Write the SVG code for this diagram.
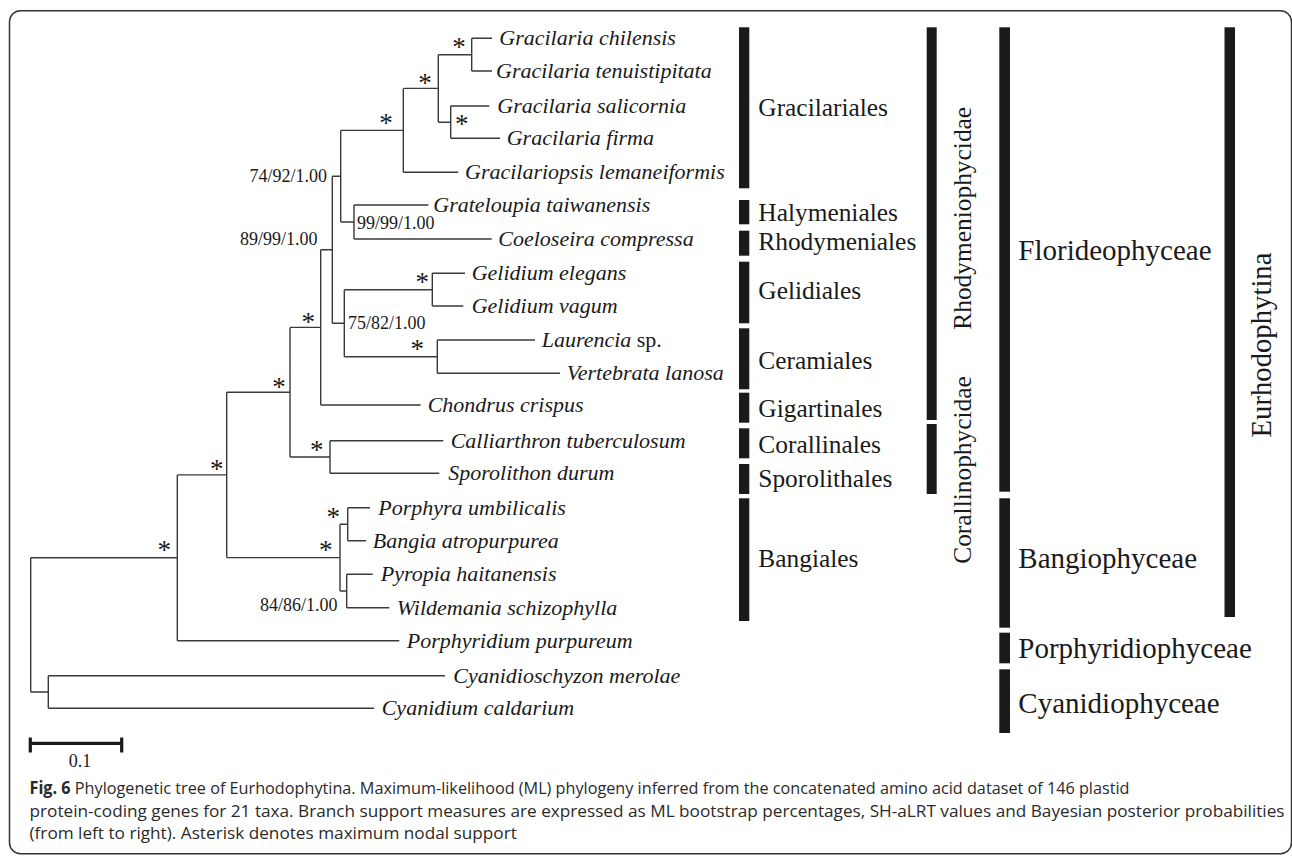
<svg xmlns="http://www.w3.org/2000/svg" width="1292" height="858" viewBox="0 0 1292 858">
<style>
text{font-family:"Liberation Serif","Times New Roman",serif;fill:#1a1a1a}
.sp{font-size:22px;font-style:italic}
.sup{font-size:18px}
.ast{font-size:27px;text-anchor:middle}
.ord{font-size:25.4px}
.cls{font-size:29px}
.rot{font-size:25.4px;text-anchor:middle}
.bar{fill:#1a1a1a}
.br{stroke:#3a3a3a;stroke-width:1.4;fill:none}
.cap{font-family:"Open Sans","Liberation Sans",sans-serif;font-size:17.2px;fill:#2a2a2a}
</style>
<rect x="9.5" y="10.7" width="1282" height="843" rx="11" fill="none" stroke="#333" stroke-width="1.5"/>
<g id="connectors">
<path class="br" d="M471.7 38.3H492M471.7 71H492M450.7 106H489.3M450.7 138.3H500M403.3 172.3H458.3M354 205H428.3M354 239H491.7M432.3 273.3H465M432.3 306H463.3M437.3 340H535M437.3 373.3H560M320.7 405H420.7M330 440.7H443.3M330 473.3H439.3M347.7 507.7H370M347.7 540.7H366M346.7 574.3H372.7M346.7 607.7H389.3M177.3 640.7H399.3M48.3 675.7H445M48.3 708.3H374"/>
<path class="br" d="M471.7 38.3V71M450.7 106V138.3M438.3 54.7V122.2M403.3 88.4V172.3M354 205V239M340.7 130.4V222M432.3 273.3V306M437.3 340V373.3M344.3 289.7V356.7M332.3 176.2V323.2M320.7 249.7V405M330 440.7V473.3M290 327.4V457M347.7 507.7V540.7M346.7 574.3V607.7M340 524.2V591M226.7 392.2V557.6M177.3 474.9V640.7M48.3 675.7V708.3M30.7 557.8V692"/>
<path class="br" d="M438.3 54.7H471.7M438.3 122.2H450.7M403.3 88.4H438.3M340.7 130.4H403.3M340.7 222H354M332.3 176.2H340.7M344.3 289.7H432.3M344.3 356.7H437.3M332.3 323.2H344.3M320.7 249.7H332.3M290 327.4H320.7M290 457H330M226.7 392.2H290M340 524.2H347.7M340 591H346.7M226.7 557.6H340M177.3 474.9H226.7M30.7 557.8H177.3M30.7 692H48.3"/>
</g>
<g id="support">
<text class="ast" x="459" y="55.9">*</text>
<text class="ast" x="425" y="91.6">*</text>
<text class="ast" x="461.7" y="132.6">*</text>
<text class="ast" x="386" y="131.6">*</text>
<text class="ast" x="422.3" y="290.9">*</text>
<text class="ast" x="417.3" y="357.6">*</text>
<text class="ast" x="308.3" y="330.9">*</text>
<text class="ast" x="279" y="395.6">*</text>
<text class="ast" x="316.7" y="459.3">*</text>
<text class="ast" x="216.7" y="477.6">*</text>
<text class="ast" x="333.3" y="525.9">*</text>
<text class="ast" x="325.7" y="558.6">*</text>
<text class="ast" x="164.3" y="559.3">*</text>
<text class="sup" x="327" y="182" text-anchor="end">74/92/1.00</text>
<text class="sup" x="357" y="229.3">99/99/1.00</text>
<text class="sup" x="317.5" y="245" text-anchor="end">89/99/1.00</text>
<text class="sup" x="348" y="329">75/82/1.00</text>
<text class="sup" x="337.5" y="611" text-anchor="end">84/86/1.00</text>
</g>
<g id="taxon-gchilensis"><text class="sp" x="499.3" y="45.3">Gracilaria chilensis</text></g>
<g id="taxon-gtenuistipitata"><text class="sp" x="496" y="78">Gracilaria tenuistipitata</text></g>
<g id="taxon-gsalicornia"><text class="sp" x="497.3" y="113">Gracilaria salicornia</text></g>
<g id="taxon-gfirma"><text class="sp" x="506.7" y="145.3">Gracilaria firma</text></g>
<g id="taxon-glemaneiformis"><text class="sp" x="465" y="179.3">Gracilariopsis lemaneiformis</text></g>
<g id="taxon-gtaiwanensis"><text class="sp" x="433.3" y="212">Grateloupia taiwanensis</text></g>
<g id="taxon-ccompressa"><text class="sp" x="498.3" y="246">Coeloseira compressa</text></g>
<g id="taxon-gelegans"><text class="sp" x="471.7" y="280.3">Gelidium elegans</text></g>
<g id="taxon-gvagum"><text class="sp" x="471.7" y="313">Gelidium vagum</text></g>
<g id="taxon-laurencia"><text class="sp" x="541.7" y="347">Laurencia<tspan font-style="normal"> sp.</tspan></text></g>
<g id="taxon-vlanosa"><text class="sp" x="566.7" y="380.3">Vertebrata lanosa</text></g>
<g id="taxon-ccrispus"><text class="sp" x="427.7" y="412">Chondrus crispus</text></g>
<g id="taxon-ctuberculosum"><text class="sp" x="450.7" y="447.7">Calliarthron tuberculosum</text></g>
<g id="taxon-sdurum"><text class="sp" x="448.3" y="480.3">Sporolithon durum</text></g>
<g id="taxon-pumbilicalis"><text class="sp" x="378.3" y="514.7">Porphyra umbilicalis</text></g>
<g id="taxon-batropurpurea"><text class="sp" x="372.7" y="547.7">Bangia atropurpurea</text></g>
<g id="taxon-phaitanensis"><text class="sp" x="380.7" y="581.3">Pyropia haitanensis</text></g>
<g id="taxon-wschizophylla"><text class="sp" x="396.7" y="614.7">Wildemania schizophylla</text></g>
<g id="taxon-ppurpureum"><text class="sp" x="406.7" y="647.7">Porphyridium purpureum</text></g>
<g id="taxon-cmerolae"><text class="sp" x="453.3" y="682.7">Cyanidioschyzon merolae</text></g>
<g id="taxon-ccaldarium"><text class="sp" x="381.7" y="715.3">Cyanidium caldarium</text></g>
<g id="order-gracilariales"><rect class="bar" x="739" y="27.3" width="10.3" height="161"/><text class="ord" x="758.3" y="116">Gracilariales</text></g>
<g id="order-halymeniales"><rect class="bar" x="739" y="200" width="10.3" height="24.3"/><text class="ord" x="758.3" y="220.7">Halymeniales</text></g>
<g id="order-rhodymeniales"><rect class="bar" x="739" y="230.7" width="10.3" height="25"/><text class="ord" x="758.3" y="250">Rhodymeniales</text></g>
<g id="order-gelidiales"><rect class="bar" x="739" y="261.7" width="10.3" height="61.6"/><text class="ord" x="758.3" y="299.3">Gelidiales</text></g>
<g id="order-ceramiales"><rect class="bar" x="739" y="328.3" width="10.3" height="61"/><text class="ord" x="758.3" y="369.3">Ceramiales</text></g>
<g id="order-gigartinales"><rect class="bar" x="739" y="392.7" width="10.3" height="30"/><text class="ord" x="758.3" y="417.3">Gigartinales</text></g>
<g id="order-corallinales"><rect class="bar" x="739" y="428.3" width="10.3" height="30"/><text class="ord" x="758.3" y="453.3">Corallinales</text></g>
<g id="order-sporolithales"><rect class="bar" x="739" y="464" width="10.3" height="30"/><text class="ord" x="758.3" y="486.7">Sporolithales</text></g>
<g id="order-bangiales"><rect class="bar" x="739" y="498.3" width="10.3" height="122.7"/><text class="ord" x="758.3" y="566.7">Bangiales</text></g>
<g id="subclass-rhodymeniophycidae"><rect class="bar" x="926.7" y="27.3" width="10" height="392.7"/><text class="rot" transform="translate(970.5 218.3) rotate(-90)">Rhodymeniophycidae</text></g>
<g id="subclass-corallinophycidae"><rect class="bar" x="926.7" y="424" width="10" height="70"/><text class="rot" transform="translate(970.5 470) rotate(-90)">Corallinophycidae</text></g>
<g id="class-florideophyceae"><rect class="bar" x="999.3" y="27.3" width="10.7" height="464.4"/><text class="cls" x="1018.3" y="260">Florideophyceae</text></g>
<g id="class-bangiophyceae"><rect class="bar" x="999.3" y="498.3" width="10.7" height="129.4"/><text class="cls" x="1018.3" y="568.3">Bangiophyceae</text></g>
<g id="class-porphyridiophyceae"><rect class="bar" x="999.3" y="632.7" width="10.7" height="30.6"/><text class="cls" x="1018.3" y="658.3">Porphyridiophyceae</text></g>
<g id="class-cyanidiophyceae"><rect class="bar" x="999.3" y="669.3" width="10.7" height="63.7"/><text class="cls" x="1018.3" y="713">Cyanidiophyceae</text></g>
<g id="subphylum-eurhodophytina"><rect class="bar" x="1224.5" y="27.3" width="10.5" height="589.7"/><text class="rot" style="font-size:28.7px" transform="translate(1271 345) rotate(-90)">Eurhodophytina</text></g>
<g id="scalebar">
<path d="M29.3 743.3H122.7M30.3 737.5V752.5M121.7 737.5V752.5" stroke="#1a1a1a" stroke-width="3.2" fill="none"/>
<text x="80" y="767" font-size="18" text-anchor="middle">0.1</text>
</g>
<g id="caption">
<text class="cap" x="29.5" y="794" textLength="1100" lengthAdjust="spacingAndGlyphs"><tspan font-weight="bold">Fig. 6</tspan> Phylogenetic tree of Eurhodophytina. Maximum-likelihood (ML) phylogeny inferred from the concatenated amino acid dataset of 146 plastid</text>
<text class="cap" x="29.5" y="816.5">protein-coding genes for 21 taxa. Branch support measures are expressed as ML bootstrap percentages, SH-aLRT values and Bayesian posterior probabilities</text>
<text class="cap" x="29.5" y="839">(from left to right). Asterisk denotes maximum nodal support</text>
</g>
</svg>
